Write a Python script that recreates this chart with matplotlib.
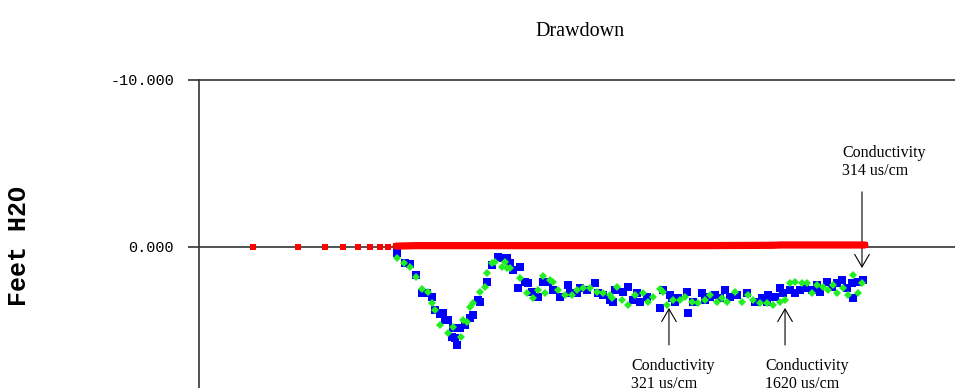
import numpy as np
import matplotlib
matplotlib.use('Agg')
import matplotlib.pyplot as plt

# elapsed time (log axis) and drawdown in feet of water (positive = down)
red_t = [1, 2, 3, 4, 5, 6, 7, 8, 9, 12, 20, 50, 100, 300, 1000, 2900, 3300, 4500, 8000, 12000]
red_dd = [0.0, 0.0, 0.0, 0.0, 0.0, 0.0, 0.0, 0.0, -0.05, -0.08, -0.08, -0.08, -0.08, -0.08,
          -0.08, -0.1, -0.12, -0.12, -0.12, -0.12]

blue_t = [9.1, 10.3, 11.1, 12.2, 13.4, 14.5, 15.6, 16.3, 17.7, 18.5, 19.1, 20, 21.2, 21.5, 22.2,
          22.9, 24, 25.9, 28, 29.3, 31.6, 32.6, 36.3, 39.2, 43, 46.4, 49.4, 51.7, 54.1, 58.5,
          60.3, 65, 68.1, 72.4, 79.4, 85.8, 92.6, 100, 111, 126, 130, 145, 151, 169, 191, 200,
          215, 240, 251, 259, 293, 316, 341, 363, 380, 424, 517, 541, 603, 621, 650, 681, 782,
          794, 858, 985, 1031, 1114, 1202, 1298, 1402, 1514, 1686, 1965, 2222, 2474, 2670,
          2712, 3020, 3262, 3415, 3802, 4104, 4433, 4786, 5330, 5754, 6026, 6714, 7244, 7816,
          8450, 9120, 9840, 10000, 10800, 11660]
blue_dd = [0.36, 0.96, 1.02, 1.68, 2.75, 2.75, 2.99, 3.77, 4.01, 3.95, 4.37, 4.37, 5.39, 4.85,
           5.45, 5.87, 4.85, 4.67, 4.25, 4.07, 3.17, 3.29, 2.1, 1.08, 0.6, 0.66, 0.66, 0.96,
           1.38, 2.46, 1.2, 2.1, 2.16, 2.69, 2.99, 2.1, 2.1, 2.57, 2.99, 2.28, 2.75, 2.75, 2.46,
           2.57, 2.16, 2.75, 2.87, 3.17, 3.29, 2.57, 2.69, 2.4, 3.17, 2.75, 3.29, 2.99, 3.65,
           2.57, 2.87, 3.05, 3.29, 3.05, 2.69, 3.95, 3.29, 2.75, 3.17, 2.99, 2.87, 3.05, 2.57,
           2.99, 2.87, 2.75, 3.29, 3.05, 3.29, 2.87, 2.99, 2.46, 2.75, 2.57, 2.75, 2.57, 2.46,
           2.57, 2.28, 2.69, 2.1, 2.4, 2.16, 1.98, 2.46, 2.16, 3.05, 2.1, 1.98]

green_t = [9.1, 10.2, 11.1, 12.2, 13.4, 14.7, 15.6, 16.3, 17.7, 20, 21.5, 24.4, 25.1, 26.7, 28,
           29.3, 32.6, 35.2, 36.3, 39.2, 41, 45.7, 47.9, 49.4, 51.7, 60.3, 67.1, 73.6, 79.4,
           85.8, 88.4, 95.5, 100, 108, 120, 134, 145, 158, 177, 197, 215, 240, 247, 267, 288,
           316, 352, 398, 430, 464, 517, 541, 575, 631, 703, 759, 845, 926, 1031, 1114, 1240,
           1339, 1445, 1634, 1820, 1995, 2154, 2399, 2670, 2929, 3262, 3520, 3802, 4104, 4571,
           4936, 5330, 5754, 6310, 6808, 7362, 7816, 8575, 9268, 10000, 10800, 11480]
green_dd = [0.66, 0.96, 1.2, 1.8, 2.51, 2.69, 3.35, 3.77, 4.67, 5.15, 4.79, 5.39, 4.37, 4.49,
            3.59, 3.35, 2.69, 2.4, 1.56, 0.96, 0.9, 1.2, 0.9, 1.26, 1.26, 1.86, 2.75, 3.05,
            2.57, 1.74, 2.75, 1.98, 2.1, 2.57, 2.87, 2.87, 2.57, 2.46, 2.46, 2.69, 2.75, 2.87,
            3.05, 2.4, 3.17, 3.47, 2.87, 2.75, 3.29, 2.99, 2.51, 2.69, 3.47, 3.17, 3.17, 2.99,
            3.29, 3.35, 3.17, 2.87, 3.29, 3.05, 3.29, 2.69, 3.29, 2.87, 3.17, 3.35, 3.35, 3.47,
            3.29, 3.17, 2.16, 2.1, 2.16, 2.16, 2.75, 2.28, 2.4, 2.57, 2.28, 2.75, 2.46, 2.87,
            1.68, 2.75, 2.16]

ytick_vals = [-10, 0]
ytick_labels = ['-10.000', '0.000']

# conductivity notes: text, arrow tip (t, dd), arrow tail dd, text anchor (t, dd)
note_text = ['Conductivity\n314 us/cm', 'Conductivity\n321 us/cm', 'Conductivity\n1620 us/cm']
note_tip = [(11480, 1.26), (593, 3.65), (3523, 3.65)]
note_tail = [-3.3, 5.87, 5.87]
note_pos = [(8450, -6.1), (331, 6.65), (2590, 6.65)]

fig = plt.figure(figsize=(9.55, 3.88), dpi=100)
ax = fig.add_axes([199 / 955, -26 / 388, 801 / 955, 342.4 / 388])
ax.set_xscale('log')
ax.set_xlim(10 ** -0.36, 10 ** 4.98)
ax.set_ylim(10, -10.5)

ax.plot(blue_t, blue_dd, 's', color='#0000ff', ms=5.8, mew=0, zorder=3)
ax.plot(green_t, green_dd, 'D', color='#22ee22', ms=3.8, mew=0, zorder=4)
dense = [i for i, t in enumerate(red_t) if t >= 9]
ax.plot([red_t[i] for i in dense], [red_dd[i] for i in dense], '-', color='#ff0000',
        lw=5.2, solid_capstyle='round', zorder=5)
ax.plot(red_t, red_dd, 's', color='#ff0000', ms=4.8, mew=0, zorder=5)

ax.set_yticks(ytick_vals)
ax.set_yticklabels(ytick_labels, fontfamily='Liberation Mono', fontsize=11)
ax.yaxis.grid(True, color='#333333', lw=1.2)
ax.tick_params(axis='y', length=8, width=1.2, color='#333333', pad=10)
ax.tick_params(axis='x', which='both', bottom=False, labelbottom=False)
for s in ['top', 'right', 'bottom']:
    ax.spines[s].set_visible(False)
ax.spines['left'].set_bounds(-10, 10)
ax.spines['left'].set_color('#333333')
ax.spines['left'].set_linewidth(1.2)

for txt, tip, tail, pos in zip(note_text, note_tip, note_tail, note_pos):
    ax.annotate('', xy=tip, xytext=(tip[0], tail),
                arrowprops=dict(arrowstyle='->,head_length=0.6,head_width=0.35',
                                mutation_scale=15, lw=0.8, color='black',
                                shrinkA=0, shrinkB=0))
    ax.text(pos[0], pos[1], txt, ha='left', va='top', fontfamily='Liberation Serif',
            fontsize=11.5, linespacing=1.15, clip_on=False)

fig.text(580 / 955, 1 - 31 / 388, 'Drawdown', ha='center', va='center',
         fontfamily='Liberation Serif', fontsize=14.5)
fig.text(19 / 955, 1 - 246 / 388, 'Feet H2O', rotation=90, ha='center', va='center',
         fontfamily='Liberation Mono', fontweight='bold', fontsize=18)

fig.savefig('out.png', dpi=100)
